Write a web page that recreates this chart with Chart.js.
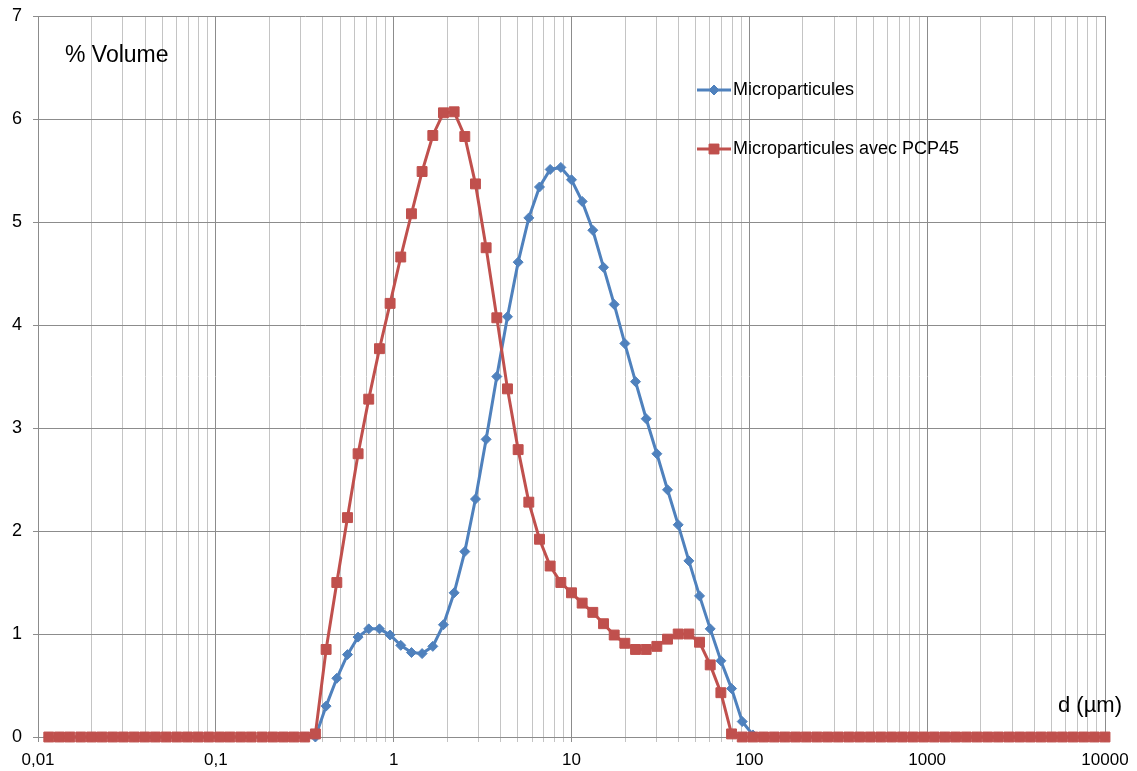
<!DOCTYPE html>
<html>
<head>
<meta charset="utf-8">
<title>% Volume</title>
<script src="https://cdn.jsdelivr.net/npm/chart.js@4/dist/chart.umd.min.js"></script>
<style>
  html, body { margin: 0; padding: 0; background: #fff; }
  #wrap { width: 1137px; height: 771px; }
</style>
</head>
<body>
<div id="wrap"><canvas id="psd" width="1137" height="771"></canvas></div>
<script>
// particle size classes (µm)
const sizes = [
  0.0115, 0.0132, 0.0151, 0.0174, 0.0200, 0.0229, 0.0263, 0.0302, 0.0347, 0.0398,
  0.0457, 0.0525, 0.0603, 0.0692, 0.0794, 0.0912, 0.105, 0.120, 0.138, 0.158,
  0.182, 0.209, 0.240, 0.275, 0.316, 0.363, 0.417, 0.479, 0.550, 0.631,
  0.724, 0.832, 0.955, 1.096, 1.259, 1.445, 1.660, 1.905, 2.188, 2.512,
  2.884, 3.311, 3.802, 4.365, 5.012, 5.754, 6.607, 7.586, 8.710, 10.00,
  11.48, 13.18, 15.14, 17.38, 19.95, 22.91, 26.30, 30.20, 34.67, 39.81,
  45.71, 52.48, 60.26, 69.18, 79.43, 91.20, 104.7, 120.2, 138.0, 158.5,
  182.0, 208.9, 239.9, 275.4, 316.2, 363.1, 416.9, 478.6, 549.5, 631.0,
  724.4, 831.8, 955.0, 1096, 1259, 1445, 1660, 1905, 2188, 2512,
  2884, 3311, 3802, 4365, 5012, 5754, 6607, 7586, 8710, 10000
];

const microparticules = [
  0, 0, 0, 0, 0, 0, 0, 0, 0, 0,
  0, 0, 0, 0, 0, 0, 0, 0, 0, 0,
  0, 0, 0, 0, 0, 0, 0.30, 0.57, 0.80, 0.97,
  1.05, 1.05, 0.99, 0.89, 0.82, 0.81, 0.88, 1.09, 1.40, 1.80,
  2.31, 2.89, 3.50, 4.08, 4.61, 5.04, 5.34, 5.51, 5.53, 5.41,
  5.20, 4.92, 4.56, 4.20, 3.82, 3.45, 3.09, 2.75, 2.40, 2.06,
  1.71, 1.37, 1.05, 0.74, 0.47, 0.15, 0.02, 0, 0, 0,
  0, 0, 0, 0, 0, 0, 0, 0, 0, 0,
  0, 0, 0, 0, 0, 0, 0, 0, 0, 0,
  0, 0, 0, 0, 0, 0, 0, 0, 0, 0
];

const avecPCP45 = [
  0, 0, 0, 0, 0, 0, 0, 0, 0, 0,
  0, 0, 0, 0, 0, 0, 0, 0, 0, 0,
  0, 0, 0, 0, 0, 0.03, 0.85, 1.50, 2.13, 2.75,
  3.28, 3.77, 4.21, 4.66, 5.08, 5.49, 5.84, 6.06, 6.07, 5.83,
  5.37, 4.75, 4.07, 3.38, 2.79, 2.28, 1.92, 1.66, 1.50, 1.40,
  1.30, 1.21, 1.10, 0.99, 0.91, 0.85, 0.85, 0.88, 0.95, 1.00,
  1.00, 0.92, 0.70, 0.43, 0.03, 0, 0, 0, 0, 0,
  0, 0, 0, 0, 0, 0, 0, 0, 0, 0,
  0, 0, 0, 0, 0, 0, 0, 0, 0, 0,
  0, 0, 0, 0, 0, 0, 0, 0, 0, 0
];

const decades = [0.01, 0.1, 1, 10, 100, 1000, 10000];
const decadeLabels = ["0,01", "0,1", "1", "10", "100", "1000", "10000"];
const seriesNames = ["Microparticules", "Microparticules avec PCP45"];

const BLUE = "#4f81bd";
const RED = "#c0504d";
const FONT = "'Liberation Sans', Arial, sans-serif";

function toPoints(values) {
  return sizes.map((d, i) => ({ x: d, y: values[i] }));
}

// free text + hand placed legend, like the Excel sheet
const annotations = {
  id: "annotations",
  afterDraw(chart) {
    const ctx = chart.ctx;
    ctx.save();
    ctx.fillStyle = "#000";
    ctx.textBaseline = "middle";
    ctx.font = "23px " + FONT;
    ctx.fillText("% Volume", 65, 56);
    ctx.font = "22px " + FONT;
    ctx.fillText("d (\u00b5m)", 1058, 706);

    const items = [
      { name: seriesNames[0], color: BLUE, style: "rectRot", r: 5, y: 90 },
      { name: seriesNames[1], color: RED, style: "rect", r: 7, y: 149 }
    ];
    ctx.font = "18px " + FONT;
    items.forEach(it => {
      ctx.strokeStyle = it.color;
      ctx.lineWidth = 3;
      ctx.beginPath();
      ctx.moveTo(697, it.y);
      ctx.lineTo(731, it.y);
      ctx.stroke();
      ctx.fillStyle = it.color;
      ctx.lineWidth = 1;
      Chart.helpers.drawPoint(ctx, { pointStyle: it.style, radius: it.r, rotation: 0, borderWidth: 1 }, 714, it.y);
      ctx.fill();
      ctx.fillStyle = "#000";
      ctx.fillText(it.name, 733, it.y);
    });
    ctx.restore();
  }
};

function initChart() {
  const canvas = document.getElementById("psd");
  new Chart(canvas, {
    type: "line",
    data: {
      datasets: [
        {
          label: seriesNames[0],
          data: toPoints(microparticules),
          borderColor: BLUE,
          backgroundColor: BLUE,
          borderWidth: 3,
          pointStyle: "rectRot",
          pointRadius: 5,
          pointBorderWidth: 1,
          tension: 0,
          clip: false,
          order: 1
        },
        {
          label: seriesNames[1],
          data: toPoints(avecPCP45),
          borderColor: RED,
          backgroundColor: RED,
          borderWidth: 3,
          pointStyle: "rect",
          pointRadius: 7,
          pointBorderWidth: 1,
          tension: 0,
          clip: false,
          order: 0
        }
      ]
    },
    options: {
      responsive: false,
      animation: false,
      devicePixelRatio: 1,
      layout: { padding: { top: 16, right: 32, left: 0, bottom: 0 } },
      plugins: {
        legend: { display: false },
        tooltip: { enabled: false }
      },
      scales: {
        x: {
          type: "logarithmic",
          min: 0.01,
          max: 10000,
          afterBuildTicks(scale) {
            const ticks = [];
            decades.forEach((d, k) => {
              for (let m = 1; m <= 9; m++) {
                if (k === decades.length - 1 && m > 1) break;
                ticks.push({ value: d * m, major: m === 1 });
              }
            });
            scale.ticks = ticks;
          },
          afterFit(scale) {
            scale.height = 34;
            scale.paddingLeft = 0;
            scale.paddingRight = 0;
          },
          grid: {
            color: ctx => (ctx.tick && ctx.tick.major ? "#8c8c8c" : "#c4c4c4"),
            tickLength: 5
          },
          border: { color: "#8c8c8c" },
          ticks: {
            autoSkip: false,
            maxRotation: 0,
            padding: 8,
            color: "#000",
            font: { family: FONT, size: 17 },
            callback: value => {
              const k = decades.indexOf(value);
              return k >= 0 ? decadeLabels[k] : "";
            }
          }
        },
        y: {
          min: 0,
          max: 7,
          afterFit(scale) {
            scale.width = 38;
            scale.paddingTop = 0;
            scale.paddingBottom = 0;
          },
          grid: { color: "#8c8c8c", tickLength: 5 },
          border: { color: "#8c8c8c" },
          ticks: {
            stepSize: 1,
            padding: 11,
            color: "#000",
            font: { family: FONT, size: 18 }
          }
        }
      }
    },
    plugins: [annotations]
  });
}

document.addEventListener("DOMContentLoaded", initChart);
</script>
</body>
</html>
